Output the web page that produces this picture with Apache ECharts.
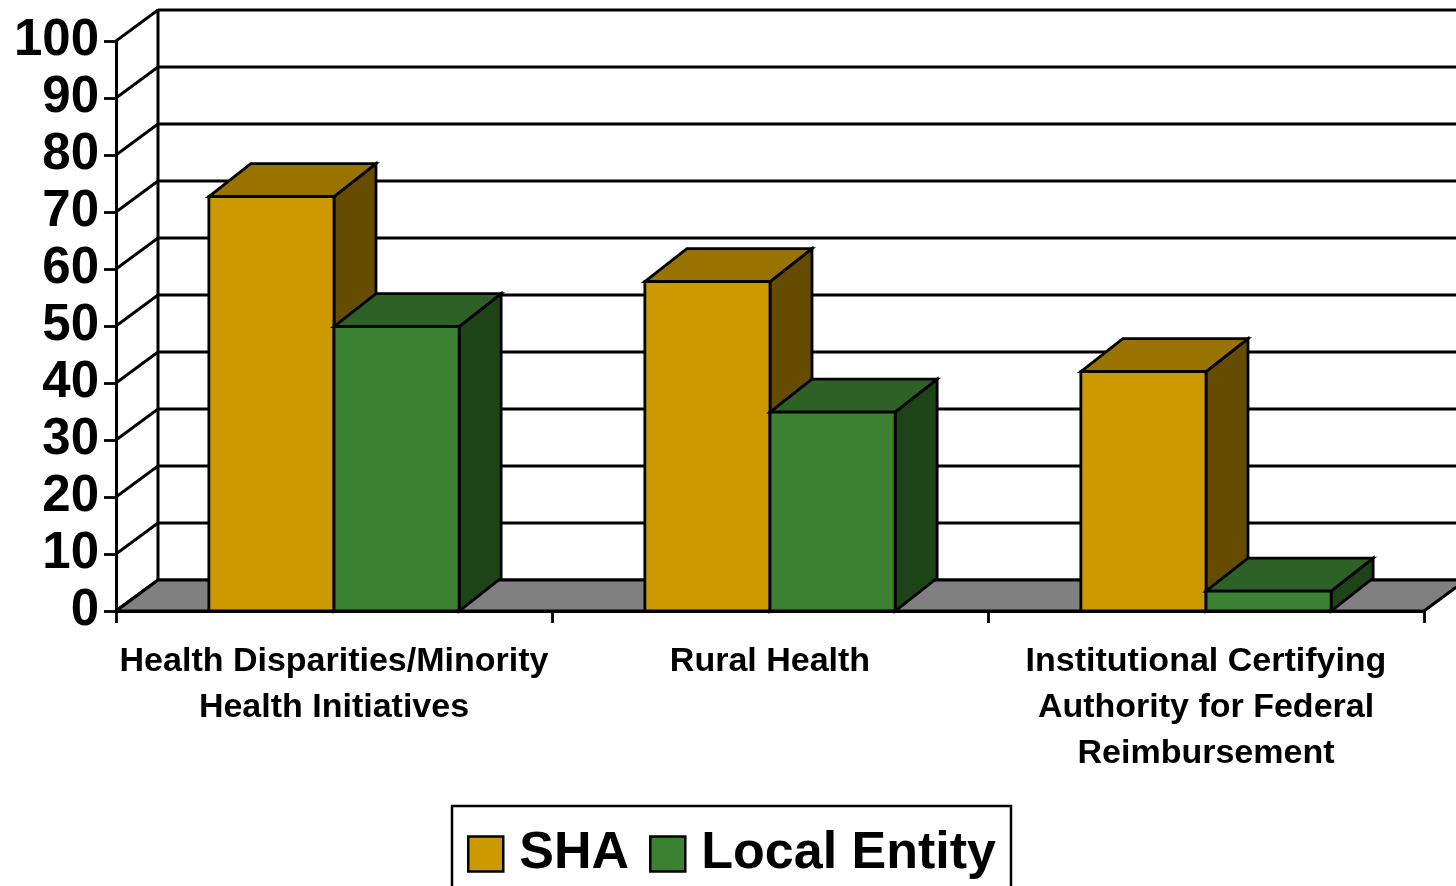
<!DOCTYPE html>
<html>
<head>
<meta charset="utf-8">
<script src="https://cdn.jsdelivr.net/npm/echarts@6/dist/echarts.min.js"></script>
<style>
html,body{margin:0;padding:0;background:#fff;}
#chart{width:1456px;height:886px;}
</style>
</head>
<body>
<div id="chart"></div>
<script>
// ---- data ----
const categories = [
  'Health Disparities/Minority\nHealth Initiatives',
  'Rural Health',
  'Institutional Certifying\nAuthority for Federal\nReimbursement'
];
const seriesNames = ['SHA', 'Local Entity'];
const shaValues = [72.7, 57.8, 42.0];
const localValues = [49.9, 34.9, 3.5];
const yTicks = [0, 10, 20, 30, 40, 50, 60, 70, 80, 90, 100];

// ---- style constants ----
const FONT = "'Liberation Sans', Arial, sans-serif";
const WALL_DX = 42, WALL_DY = 31;
const BAR_DX = 42, BAR_DY = 33;
const BAR_FRAC = 0.287;
const LW = 2.8;
const shaColors = { front: '#CC9900', top: '#997300', side: '#664C00' };
const localColors = { front: '#3A8232', top: '#2D6126', side: '#1F4319' };

function wallRender(params, api) {
  const cs = params.coordSys;
  const v = api.value(1);
  const p = api.coord([0, v]);
  const x0 = cs.x, x1 = cs.x + cs.width;
  const y = p[1];
  const st = { stroke: '#000', lineWidth: LW };
  const children = [
    { type: 'line', shape: { x1: x0, y1: y, x2: x0 + WALL_DX, y2: y - WALL_DY }, style: st },
    { type: 'line', shape: { x1: x0 + WALL_DX, y1: y - WALL_DY, x2: x1 + WALL_DX + 40, y2: y - WALL_DY }, style: st }
  ];
  return { type: 'group', children: children };
}

function edgeRender(params, api) {
  const cs = params.coordSys;
  const top = api.coord([0, api.value(1)]);
  const bot = api.coord([0, 0]);
  const x = cs.x + WALL_DX;
  return { type: 'line', shape: { x1: x, y1: top[1] - WALL_DY - 1, x2: x, y2: bot[1] - WALL_DY },
           style: { stroke: '#000', lineWidth: 3 } };
}

function floorRender(params, api) {
  const cs = params.coordSys;
  const b = api.coord([0, 0]);
  const x0 = cs.x, x1 = cs.x + cs.width, y = b[1];
  return {
    type: 'polygon',
    shape: { points: [[x0, y], [x1, y], [x1 + WALL_DX, y - WALL_DY], [x0 + WALL_DX, y - WALL_DY]] },
    style: { fill: '#808080', stroke: '#000', lineWidth: 3.2, lineJoin: 'miter' }
  };
}

function makeBox(side, colors) {
  return function (params, api) {
    const cat = api.value(0), val = api.value(1);
    const base = api.coord([cat, 0]);
    const top = api.coord([cat, val]);
    const w = api.size([1, 0])[0] * BAR_FRAC;
    const xL = side < 0 ? base[0] - w : base[0];
    const xR = xL + w;
    const yT = top[1], yB = base[1];
    const st = (fill) => ({ fill: fill, stroke: '#000', lineWidth: LW, lineJoin: 'miter' });
    return {
      type: 'group',
      children: [
        { type: 'polygon', shape: { points: [[xR, yT], [xR, yB], [xR + BAR_DX, yB - BAR_DY], [xR + BAR_DX, yT - BAR_DY]] }, style: st(colors.side) },
        { type: 'polygon', shape: { points: [[xL, yT], [xR, yT], [xR + BAR_DX, yT - BAR_DY], [xL + BAR_DX, yT - BAR_DY]] }, style: st(colors.top) },
        { type: 'rect', shape: { x: xL, y: yT, width: w, height: yB - yT }, style: st(colors.front) }
      ]
    };
  };
}

const chart = echarts.init(document.getElementById('chart'), null, { renderer: 'canvas' });
chart.setOption({
  animation: false,
  backgroundColor: '#fff',
  grid: { left: 116, right: 32, top: 41, bottom: 275, containLabel: false },
  xAxis: {
    type: 'category',
    data: categories,
    boundaryGap: true,
    axisLine: { show: true, lineStyle: { color: '#000', width: 3 } },
    axisTick: { show: true, length: 12, inside: false, lineStyle: { color: '#000', width: LW } },
    axisLabel: { interval: 0, margin: 28, color: '#000', fontFamily: FONT, fontWeight: 'bold', fontSize: 34, lineHeight: 46 },
    splitLine: { show: false }
  },
  yAxis: {
    type: 'value',
    min: 0, max: 100, interval: 10,
    axisLine: { show: true, lineStyle: { color: '#000', width: 3 } },
    axisTick: { show: true, length: 12, lineStyle: { color: '#000', width: LW } },
    axisLabel: { margin: 17, color: '#000', fontFamily: FONT, fontWeight: 'bold', fontSize: 51 },
    splitLine: { show: false }
  },
  legend: {
    left: 452, top: 806,
    orient: 'horizontal',
    borderColor: '#000', borderWidth: 2.5,
    padding: [22, 15, 30, 15],
    itemWidth: 35, itemHeight: 35, itemGap: 20,
    textStyle: { color: '#000', fontFamily: FONT, fontWeight: 'bold', fontSize: 52, padding: [0, 0, 0, 11] },
    data: [
      { name: seriesNames[0], icon: 'rect', itemStyle: { color: shaColors.front, borderColor: '#000', borderWidth: 2.5 } },
      { name: seriesNames[1], icon: 'rect', itemStyle: { color: localColors.front, borderColor: '#000', borderWidth: 2.5 } }
    ]
  },
  series: [
    { type: 'custom', name: 'walls', silent: true, z: 1, renderItem: wallRender, data: yTicks.map(v => [0, v]) },
    { type: 'custom', name: 'edge', silent: true, z: 1, renderItem: edgeRender, data: [[0, yTicks[yTicks.length - 1]]] },
    { type: 'custom', name: 'floor', silent: true, z: 2, renderItem: floorRender, data: [[0, 0]] },
    { type: 'custom', name: seriesNames[0], z: 3, itemStyle: { color: shaColors.front }, renderItem: makeBox(-1, shaColors), data: shaValues.map((v, i) => [i, v]) },
    { type: 'custom', name: seriesNames[1], z: 3, itemStyle: { color: localColors.front }, renderItem: makeBox(1, localColors), data: localValues.map((v, i) => [i, v]) }
  ]
});
</script>
</body>
</html>
